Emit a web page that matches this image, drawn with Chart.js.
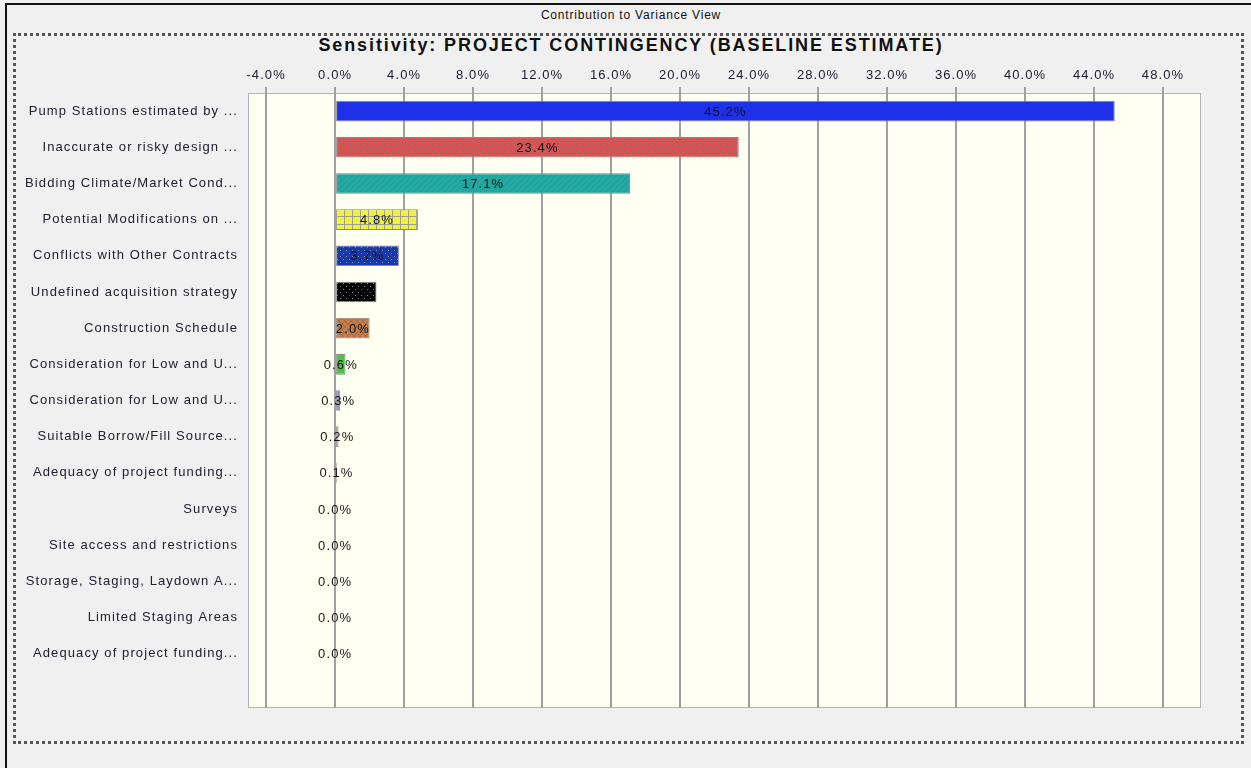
<!DOCTYPE html>
<html>
<head>
<meta charset="utf-8">
<script src="https://cdn.jsdelivr.net/npm/chart.js@4.4.1/dist/chart.umd.min.js"></script>
<style>
    html, body { margin: 0; padding: 0; background: #f0f0f0; overflow: hidden; }
    .frame { position: absolute; left: 5px; top: 3px; width: 1260px; height: 780px; border-left: 2px solid #111; border-top: 2px solid #111; box-sizing: border-box; }
    .caption { position: absolute; left: 0; top: 8px; width: 1262px; text-align: center; font: 12px "Liberation Sans", Arial, sans-serif; letter-spacing: 0.8px; color: #111; }
    .title { position: absolute; left: 0; top: 35px; width: 1262px; text-align: center; font: bold 18px "Liberation Sans", Arial, sans-serif; letter-spacing: 1.9px; color: #111; }
    .box { position: absolute; left: 13px; top: 33px; width: 1231px; height: 711px; border: 3px dotted #555; box-sizing: border-box; }
    .wrap { position: absolute; left: 0; top: 0; width: 1251px; height: 768px; }
    #chart { display: block; width: 1251px; height: 768px; }
</style>
</head>
<body>
<div class="frame"></div>
<div class="caption">Contribution to Variance View</div>
<div class="box"></div>
<div class="title">Sensitivity: PROJECT CONTINGENCY (BASELINE ESTIMATE)</div>
<div class="wrap"><canvas id="chart" width="1251" height="768"></canvas></div>
<script>
const categories = [
    'Pump Stations estimated by ...',
    'Inaccurate or risky design ...',
    'Bidding Climate/Market Cond...',
    'Potential Modifications on ...',
    'Conflicts with Other Contracts',
    'Undefined acquisition strategy',
    'Construction Schedule',
    'Consideration for Low and U...',
    'Consideration for Low and U...',
    'Suitable Borrow/Fill Source...',
    'Adequacy of project funding...',
    'Surveys',
    'Site access and restrictions',
    'Storage, Staging, Laydown A...',
    'Limited Staging Areas',
    'Adequacy of project funding...',
    '',
];
const contribution = [45.2, 23.4, 17.1, 4.8, 3.7, 2.4, 2.0, 0.6, 0.3, 0.2, 0.1, 0.0, 0.0, 0.0, 0.0, 0.0, null];
const tickValues = [-4, 0, 4, 8, 12, 16, 20, 24, 28, 32, 36, 40, 44, 48];
const barColors = ['#1e30e8', '#f24848', '#10b2aa', '#f2f23a', '#1838b0', '#000000', '#e87a28', '#3ccc3c', '#8c8ce0', '#d8b860', '#7a2a8a', '#888', '#888', '#888', '#888', '#888', '#888'];
const barPatterns = ['solid', 'back', 'fwd', 'grid', 'dots', 'dots', 'cross', 'dots', 'solid', 'solid', 'solid', 'solid', 'solid', 'solid', 'solid', 'solid', 'solid'];

function makeFill(color, kind) {
    if (kind === 'solid') return color;
    const c = document.createElement('canvas');
    const size = kind === 'grid' ? 8 : 6;
    c.width = size; c.height = size;
    const g = c.getContext('2d');
    g.fillStyle = color;
    g.fillRect(0, 0, size, size);
    g.strokeStyle = 'rgba(120,120,120,.9)';
    g.fillStyle = 'rgba(150,150,150,.9)';
    g.lineWidth = 1.2;
    if (kind === 'back') {
        g.beginPath(); g.moveTo(0, 0); g.lineTo(size, size); g.moveTo(-size, 0); g.lineTo(size, 2 * size); g.moveTo(0, -size); g.lineTo(2 * size, size); g.stroke();
    } else if (kind === 'fwd') {
        g.beginPath(); g.moveTo(0, size); g.lineTo(size, 0); g.moveTo(-size, size); g.lineTo(size, -size); g.moveTo(0, 2 * size); g.lineTo(2 * size, 0); g.stroke();
    } else if (kind === 'grid') {
        g.fillRect(0, 0, 1, size); g.fillRect(0, 0, size, 1);
    } else if (kind === 'dots') {
        g.fillRect(1, 1, 1, 1); g.fillRect(4, 4, 1, 1);
    } else if (kind === 'cross') {
        g.beginPath(); g.moveTo(0, 0); g.lineTo(size, size); g.moveTo(0, size); g.lineTo(size, 0); g.stroke();
    }
    return g.createPattern(c, 'repeat');
}

const fills = barColors.map((c, i) => makeFill(c, barPatterns[i]));

// the source app draws its text a little loose
const textSpacing = {
    id: 'textSpacing',
    beforeDraw(chart) { chart.ctx.letterSpacing = '1.1px'; },
};

const plotBackground = {
    id: 'plotBackground',
    beforeDraw(chart) {
        const { ctx, chartArea: a } = chart;
        ctx.save();
        ctx.fillStyle = '#fffff2';
        ctx.fillRect(a.left, a.top, a.right - a.left, a.bottom - a.top);
        ctx.strokeStyle = '#b4b4b4';
        ctx.lineWidth = 1;
        ctx.strokeRect(a.left + 0.5, a.top + 0.5, a.right - a.left - 1, a.bottom - a.top - 1);
        ctx.restore();
    },
};

const valueLabels = {
    id: 'valueLabels',
    afterDatasetsDraw(chart) {
        const { ctx } = chart;
        const meta = chart.getDatasetMeta(0);
        ctx.save();
        ctx.font = '13px "Liberation Sans", Arial, sans-serif';
        ctx.fillStyle = '#151515';
        ctx.textAlign = 'center';
        ctx.textBaseline = 'middle';
        meta.data.forEach((bar, i) => {
            const v = contribution[i];
            if (v === null) return;
            ctx.fillText(v.toFixed(1) + '%', (bar.x + bar.base) / 2, bar.y + 1);
        });
        ctx.restore();
    },
};

new Chart(document.getElementById('chart'), {
    type: 'bar',
    data: {
        labels: categories,
        datasets: [{
            data: contribution,
            backgroundColor: fills,
            borderColor: '#8a8a8a',
            borderWidth: 1,
            borderSkipped: false,
            categoryPercentage: 1,
            barPercentage: 0.57,
        }],
    },
    plugins: [textSpacing, plotBackground, valueLabels],
    options: {
        indexAxis: 'y',
        responsive: false,
        animation: false,
        devicePixelRatio: 1,
        layout: { padding: { left: 0, right: 50, top: 56.4, bottom: 60 } },
        plugins: {
            legend: { display: false },
            tooltip: { enabled: false },
            title: { display: false },
        },
        scales: {
            x: {
                position: 'top',
                min: -5.05,
                max: 50.2,
                afterBuildTicks(scale) { scale.ticks = tickValues.map(v => ({ value: v })); },
                afterFit(scale) { scale.height = 36.6; },
                grid: { color: '#a0a0a0', lineWidth: 2, tickLength: 6, drawTicks: true },
                border: { display: false },
                ticks: {
                    padding: 4,
                    color: '#202030',
                    font: { family: '"Liberation Sans", Arial, sans-serif', size: 13 },
                    callback: v => Number(v).toFixed(1) + '%',
                },
            },
            y: {
                afterFit(scale) { scale.width = 248; },
                grid: { display: false, drawTicks: false },
                border: { display: false },
                ticks: {
                    padding: 10,
                    color: '#202030',
                    autoSkip: false,
                    font: { family: '"Liberation Sans", Arial, sans-serif', size: 13 },
                },
            },
        },
    },
});
</script>
</body>
</html>
